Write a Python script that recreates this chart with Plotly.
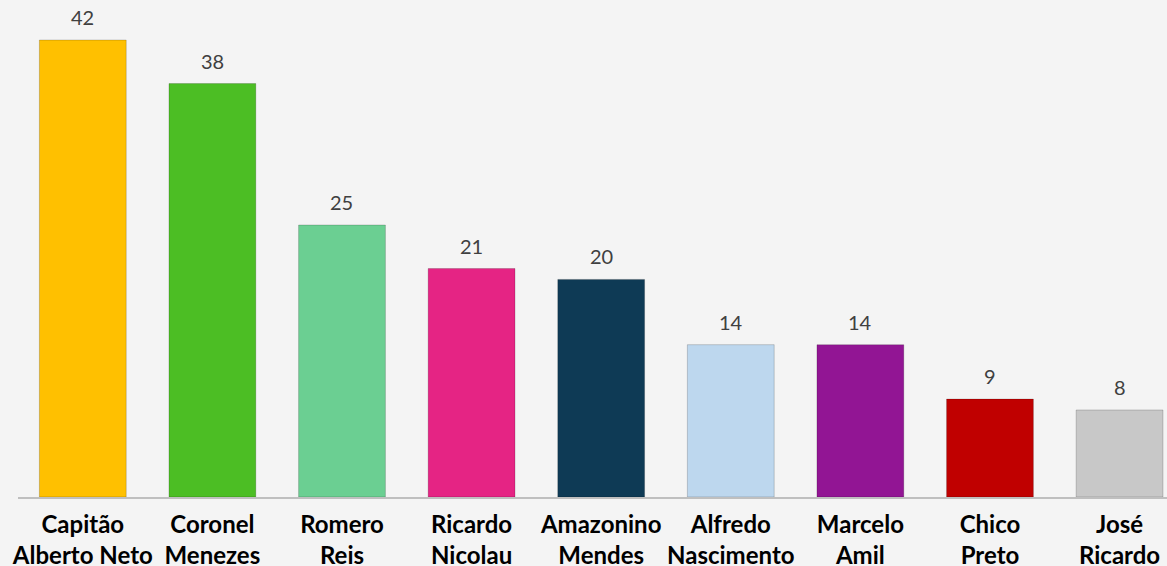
import plotly.graph_objects as go

names = ["Capitão<br>Alberto Neto", "Coronel<br>Menezes", "Romero<br>Reis", "Ricardo<br>Nicolau",
         "Amazonino<br>Mendes", "Alfredo<br>Nascimento", "Marcelo<br>Amil", "Chico<br>Preto", "José<br>Ricardo"]
values = [42, 38, 25, 21, 20, 14, 14, 9, 8]
colors = ["#FFC000", "#4CBE24", "#6BCF92", "#E52484", "#0E3A55", "#BDD7EE", "#921594", "#C00000", "#C8C8C8"]

x = list(range(len(values)))
fig = go.Figure(go.Bar(
    x=x, y=values, width=0.67,
    marker=dict(color=colors, line=dict(color="rgba(0,0,0,0.18)", width=1)),
))
for xi, v in zip(x, values):
    fig.add_annotation(x=xi, y=v, text=str(v), showarrow=False, yanchor="bottom", yshift=9,
                       font=dict(family="Lato, Open Sans, sans-serif", size=20, color="#404040"))
fig.update_layout(
    width=1167, height=566,
    margin=dict(l=18, r=0, t=0, b=69, autoexpand=False),
    paper_bgcolor="#f4f4f4", plot_bgcolor="rgba(0,0,0,0)",
    showlegend=False,
    xaxis=dict(range=[-0.5, 8.366], tickmode="array", tickvals=x, automargin=False,
               ticktext=["<b>" + n + "</b>" for n in names],
               tickfont=dict(family="Lato, sans-serif", size=24, color="#000000"),
               ticklabelstandoff=5,
               showline=True, linecolor="#bfbfbf", linewidth=2, showgrid=False, ticks="",
               zeroline=False),
    yaxis=dict(range=[0, 45.68], visible=False, showgrid=False, automargin=False),
)
fig.write_html("out.html", config={"displayModeBar": False},
               post_script="document.body.style.margin='0';document.body.style.overflow='hidden';")
